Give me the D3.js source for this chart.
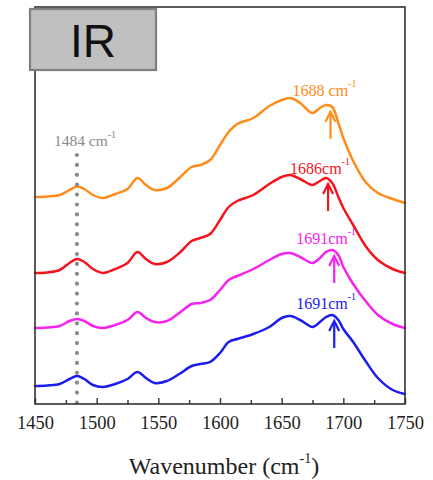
<!DOCTYPE html>
<html><head><meta charset="utf-8">
<script src="https://cdn.jsdelivr.net/npm/d3@7"></script>
<style>html,body{margin:0;padding:0;background:#fff;}</style>
</head><body><svg id="c" width="433" height="480"></svg>
<script>
// Wavenumbers (cm-1)
const wavenumbers = [1450,1460,1470,1478,1484,1490,1497,1505,1515,1525,1533,1540,1547,1557,1567,1577,1584,1592,1600,1607,1614,1627,1640,1650,1657,1665,1675,1681,1686,1691,1696,1700,1708,1718,1728,1740,1750];
// Offset absorbance (a.u.)
const orangeSeries  = [207,207.5,209,214,217.5,215,209,206,210,215,226,219,214,216,226,237,239,244,259,272,280,286,298,304,306,301,291,296,299,297,281,266,243,222,211,205,201];
const redSeries     = [131,131.5,134,141,145,142,135,131,135,141,152,145,140,142,151,163,166,170,184,197,203,209,220,227,229,225,219,223,226,221,207,196,179,158,144,135,131];
const magentaSeries = [76,76.5,78,83,85,83,78,76,79,84,92,86,82,83,91,100,101,104,114,124,128,135,144,150,151,147,141,146,152,154,149,137,120,103,89,80,76];
const blueSeries    = [18,18.5,20,25,28,25,19,17,20,25,32,26,21,23,30,38,40,42,51,62,65,70,77,86,88,84,77,82,87,89,84,75,62,43,26,14,10];
const xTicks = [1450,1500,1550,1600,1650,1700,1750];
const xMinorTicks = [1475,1525,1575,1625,1675,1725];
const peakLabels = ["1688 cm","1686cm","1691cm","1691cm"];
const peakPositions = [1688,1686,1691,1691];
const referenceLine = 1484;
const referenceLabel = "1484 cm";
const panelTitle = "IR";
const xTitle = "Wavenumber (cm";

const SERIF = "Liberation Serif";
const series = [
  {values: orangeSeries, color: "#ff8c1a"},
  {values: redSeries, color: "#f5141e"},
  {values: magentaSeries, color: "#f522f0"},
  {values: blueSeries, color: "#1c1cf0"}
];

const svg = d3.select("#c");
const L = 35, R = 405, T = 7, B = 404;
const x = d3.scaleLinear().domain([1450,1750]).range([L,R]);
const y = d3.scaleLinear().domain([0,397]).range([B,T]);

// curves
const line = d3.line().x((d,i)=>x(wavenumbers[i])).y(d=>y(d)).curve(d3.curveCatmullRom.alpha(0.5));
series.forEach(s=>{
  svg.append("path").attr("d", line(s.values)).attr("fill","none")
    .attr("stroke", s.color).attr("stroke-width",2.5).attr("stroke-linejoin","round").attr("stroke-linecap","round");
});

// dotted reference line
svg.append("line").attr("x1",x(referenceLine)).attr("x2",x(referenceLine))
  .attr("y1",155).attr("y2",B-1).attr("stroke","#8a8a8a").attr("stroke-width",4.2)
  .attr("stroke-dasharray","0 9.9").attr("stroke-linecap","round");
const rl = svg.append("text").attr("x",x(referenceLine)-23).attr("y",146)
  .attr("font-family",SERIF).attr("font-size",15.5).attr("fill","#8a8a8a").text(referenceLabel);
rl.append("tspan").attr("font-size",10).attr("dy",-8).text("-1");

// frame
svg.append("rect").attr("x",L).attr("y",T).attr("width",R-L).attr("height",B-T)
  .attr("fill","none").attr("stroke","#333").attr("stroke-width",1.6);

// x axis ticks (inward)
const axis = d3.axisBottom(x).tickValues(xTicks).tickSize(-6).tickPadding(12).tickFormat(d3.format("d"));
const g = svg.append("g").attr("transform",`translate(0,${B})`).call(axis);
g.attr("font-family",SERIF).attr("font-size",18.5);
g.select(".domain").remove();
g.selectAll(".tick line").attr("stroke","#333").attr("stroke-width",1.4);
g.selectAll(".tick text").attr("fill","#222");
const gm = svg.append("g").attr("transform",`translate(0,${B})`)
  .call(d3.axisBottom(x).tickValues(xMinorTicks).tickSize(-4).tickFormat(""));
gm.select(".domain").remove();
gm.selectAll(".tick line").attr("stroke","#333").attr("stroke-width",1.4);

// axis title
const xt = svg.append("text").attr("x",224).attr("y",474).attr("text-anchor","middle")
  .attr("font-family",SERIF).attr("font-size",24).attr("fill","#222").text(xTitle);
xt.append("tspan").attr("font-size",14).attr("dy",-11).text("-1");
xt.append("tspan").attr("dy",11).text(")");

// peak annotations
function interp(vals, wn){
  for(let i=0;i<wavenumbers.length-1;i++){
    if(wn>=wavenumbers[i] && wn<=wavenumbers[i+1]){
      const t=(wn-wavenumbers[i])/(wavenumbers[i+1]-wavenumbers[i]);
      return vals[i]+(vals[i+1]-vals[i])*t;
    }
  }
  return vals[vals.length-1];
}
const labelDy = [-10,-4,-6,-6];
series.forEach((s,i)=>{
  const wn = peakPositions[i];
  const px = x(wn)+2;
  const py = y(interp(s.values, wn));
  const tip = py+6, tail = py+33;
  svg.append("line").attr("x1",px).attr("x2",px).attr("y1",tail).attr("y2",tip+1)
    .attr("stroke",s.color).attr("stroke-width",2.2);
  svg.append("path").attr("d",`M${px-5},${tip+10}L${px},${tip}L${px+5},${tip+10}`)
    .attr("fill","none").attr("stroke",s.color).attr("stroke-width",2.2).attr("stroke-linejoin","miter");
  const t = svg.append("text").attr("x",px-38).attr("y",py+labelDy[i])
    .attr("font-family",SERIF).attr("font-size",16).attr("fill",s.color).text(peakLabels[i]);
  t.append("tspan").attr("font-size",10).attr("dy",-9).text("-1");
});

// IR title box
svg.append("rect").attr("x",30).attr("y",9).attr("width",126).attr("height",61)
  .attr("fill","#c0c0c0").attr("stroke","#7f7f7f").attr("stroke-width",2.2);
svg.append("text").attr("x",93).attr("y",57).attr("text-anchor","middle")
  .attr("font-family","Liberation Sans").attr("font-size",46).attr("fill","#111").text(panelTitle);
</script></body></html>
